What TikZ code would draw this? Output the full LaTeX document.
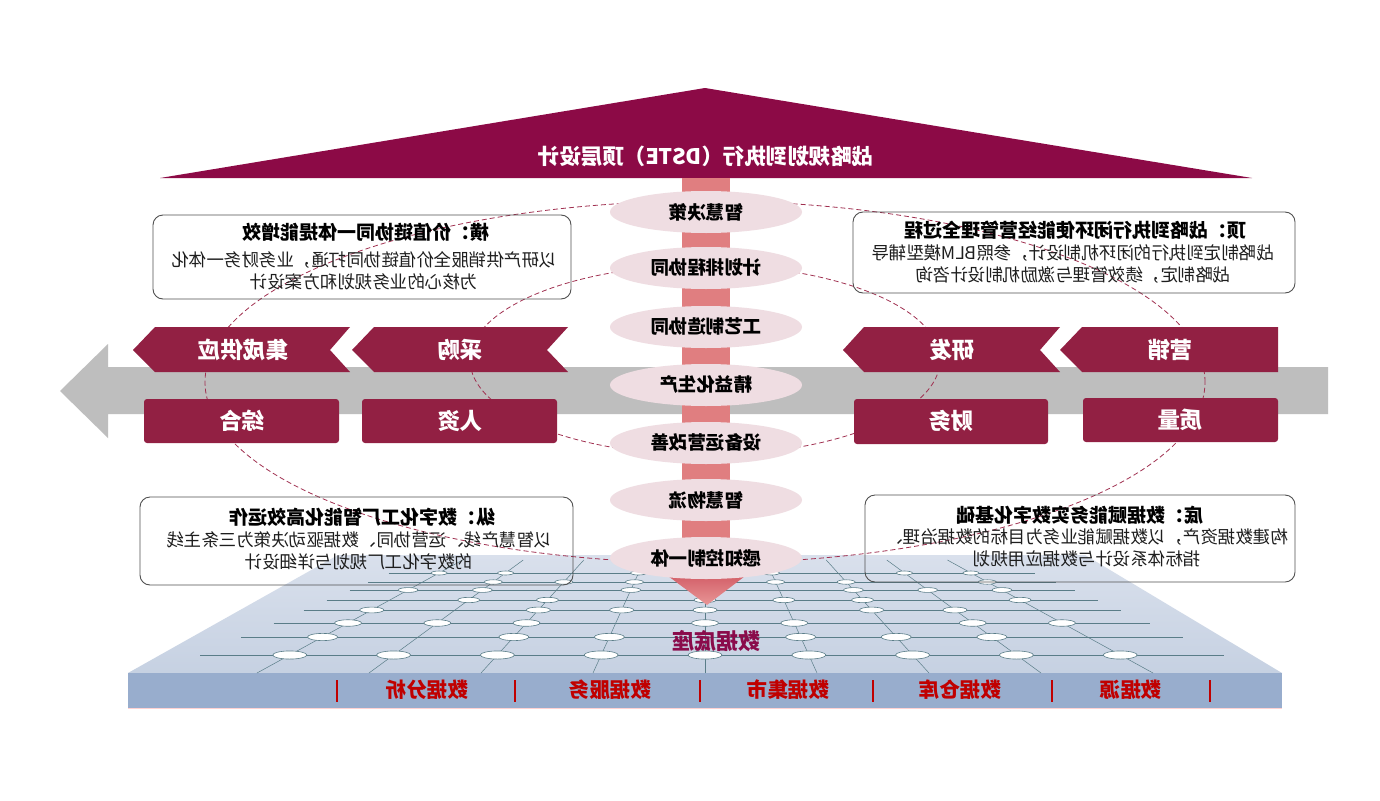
\documentclass[tikz,border=0pt]{standalone}
\usepackage{fontspec}
\setmainfont{Noto Sans CJK SC}
\usetikzlibrary{shapes.geometric}
\definecolor{roofc}{HTML}{8C0A46}
\definecolor{chevc}{HTML}{922043}
\definecolor{barc}{HTML}{E07E80}
\definecolor{ellc}{HTML}{EFDDE2}
\definecolor{arrc}{HTML}{BEBEBE}
\definecolor{platc}{HTML}{C6D1E2}
\definecolor{platt}{HTML}{D9E0EC}
\definecolor{frontc}{HTML}{98ADCD}
\definecolor{gridc}{HTML}{5A7D88}
\definecolor{dashc}{HTML}{A03050}
\definecolor{labred}{HTML}{C00000}
\definecolor{basec}{HTML}{8A0B4B}
\definecolor{boxc}{HTML}{505050}
\definecolor{bodyc}{HTML}{1E1E1E}
\begin{document}
\begin{tikzpicture}[x=1pt,y=-1pt,
  mir/.style={xscale=-1,inner sep=0pt},
  chevtext/.style={mir,text=white,font=\bfseries\fontsize{22.5}{24}\selectfont},
  pill/.style={ellipse,fill=ellc,minimum width=192pt,minimum height=42pt,inner sep=0pt,xscale=-1,font=\bfseries\fontsize{18.5}{20}\selectfont},
  boxtitle/.style={mir,text=black,font=\bfseries\fontsize{19}{22}\selectfont},
  boxbody/.style={mir,align=center,text=bodyc,font=\fontsize{17.5}{22}\selectfont},
  infobox/.style={draw=boxc,line width=0.9pt,rounded corners=10pt},
  dashring/.style={draw=dashc,dash pattern=on 5pt off 3pt,line width=0.8pt},
  baselab/.style={mir,text=labred,font=\bfseries\fontsize{20.5}{22}\selectfont},
  sepline/.style={draw=labred,line width=1.6pt},
  gridline/.style={draw=gridc,line width=0.6pt},
  gridnode/.style={draw=gridc,fill=white,line width=0.6pt}
]
\useasboundingbox (0,0) rectangle (1380,800);
\fill[white] (0,0) rectangle (1380,800);

% ---------- platform ----------
\shade[top color=platt,bottom color=platc] (338,555) -- (1085,555) -- (1282,673) -- (128,673) -- cycle;
\fill[frontc] (128,673) rectangle (1282,708);
\draw[draw=pink!70!white,line width=0.8pt] (128,708) -- (1282,708);
\begin{scope}
  \clip (338,555) -- (1085,555) -- (1282,673) -- (128,673) -- cycle;
  \foreach \yy in {573,582,590,600,610,623,637,655}{
    \pgfmathsetmacro\xl{200+(655-\yy)*2.3}
    \pgfmathsetmacro\xr{1224-(655-\yy)*2.3}
    \draw[gridline] (\xl,\yy) -- (\xr,\yy);
  }
  \foreach \j in {0,...,8}{
    \pgfmathsetmacro\xb{257+112*\j}
    \pgfmathsetmacro\xt{\xb+(705-\xb)*0.459}
    \draw[gridline,line width=0.5pt] (\xb,673) -- (\xt,560);
  }
  \foreach \j in {0,...,8}{
    \foreach \yy [count=\r] in {573,582,590,600,610,623,637,655}{
      \pgfmathtruncatemacro\m{mod(\j*5+\r*3,7)}
      \ifnum\m<5 \def\show{1}\else\def\show{0}\fi
      \ifnum\r=8 \def\show{1}\fi
      \ifnum\show=1
        \pgfmathsetmacro\fr{(673-\yy)/246}
        \pgfmathsetmacro\xe{257+112*\j+(448-112*\j)*\fr}
        \pgfmathsetmacro\ew{8+(\yy-573)*0.11}
        \pgfmathsetmacro\eh{2+(\yy-573)*0.025}
        \draw[gridnode] (\xe,\yy) ellipse [x radius=\ew pt, y radius=\eh pt];
      \fi
    }
  }
\end{scope}

% ---------- gray arrow ----------
\fill[arrc] (108,367) -- (1328,367) -- (1328,414) -- (108,414) -- (108,438) -- (60,391) -- (108,344) -- cycle;

% ---------- roof ----------
\fill[roofc] (705,88) -- (1252,178) -- (160,178) -- cycle;
\node[chevtext,font=\bfseries\fontsize{21.5}{24}\selectfont] (title) at (706,156) {战略规划到执行（DSTE）顶层设计};

% ---------- central bar ----------
\fill[barc] (682,178) rectangle (730,572);
\shade[top color={rgb,255:red,207;green,85;blue,96},bottom color={rgb,255:red,232;green,150;blue,150}] (660,570) -- (753,570) -- (707,605) -- cycle;

% ---------- dashed rings ----------
\draw[dashring] (705,382) ellipse [x radius=500pt, y radius=181pt];
\draw[dashring] (705,360) ellipse [x radius=235pt, y radius=95pt];

% ---------- chevrons ----------
\fill[chevc] (133,350) -- (155,327) -- (350,327) -- (330,350) -- (350,372) -- (155,372) -- cycle;
\fill[chevc] (352,350) -- (374,327) -- (568,327) -- (547,350) -- (568,372) -- (374,372) -- cycle;
\fill[chevc] (843,350) -- (864,327) -- (1060,327) -- (1040,350) -- (1060,372) -- (864,372) -- cycle;
\fill[chevc] (1060,350) -- (1082,327) -- (1278,327) -- (1278,372) -- (1082,372) -- cycle;
\node[chevtext] (jc) at (243,350) {集成供应};
\node[chevtext] (cg) at (460,350) {采购};
\node[chevtext] (yf) at (952,350) {研发};
\node[chevtext] (yx) at (1170,350) {营销};
\fill[chevc,rounded corners=3pt] (144,399) rectangle (339,443);
\fill[chevc,rounded corners=3pt] (362,399) rectangle (557,443);
\fill[chevc,rounded corners=3pt] (854,399) rectangle (1048,444);
\fill[chevc,rounded corners=3pt] (1083,398) rectangle (1278,442);
\node[chevtext] (zh) at (242,421) {综合};
\node[chevtext] (rz) at (460,421) {人资};
\node[chevtext] (cw) at (951,421) {财务};
\node[chevtext] (zl) at (1180,420) {质量};

% ---------- pills ----------
\node[pill] (p1) at (706,212) {智慧决策};
\node[pill] (p2) at (706,268) {计划排程协同};
\node[pill] (p3) at (706,327) {工艺制造协同};
\node[pill] (p4) at (706,385) {精益化生产};
\node[pill] (p5) at (706,443) {设备运营改善};
\node[pill] (p6) at (706,500) {智慧物流};
\node[pill] (p7) at (706,558) {感知控制一体};

% ---------- info boxes ----------
\draw[infobox] (153,215) rectangle (571,299);
\node[boxtitle] (tlt) at (366,232) {横：价值链协同一体提能增效};
\node[boxbody] (tlb) at (364,271) {以研产供销服全价值链协同打通，业务财务一体化\\为核心的业务规划和方案设计};

\draw[infobox] (853,212) rectangle (1295,293);
\node[boxtitle] (trt) at (1075,230) {顶：战略到执行闭环使能经营管理全过程};
\node[boxbody] (trb) at (1073,264) {战略制定到执行的闭环机制设计，参照BLM模型辅导\\战略制定，绩效管理与激励机制设计咨询};

\draw[infobox] (140,497) rectangle (573,585);
\node[boxtitle] (blt) at (362,517) {纵：数字化工厂智能化高效运作};
\node[boxbody] (blb) at (359,551) {以智慧产线、运营协同、数据驱动决策为三条主线\\的数字化工厂规划与详细设计};

\draw[infobox] (865,495) rectangle (1295,582);
\node[boxtitle] (brt) at (1080,515) {底：数据赋能务实数字化基础};
\node[boxbody] (brb) at (1087,548) {构建数据资产，以数据赋能业务为目标的数据治理、\\指标体系设计与数据应用规划};

% ---------- base labels ----------
\node[mir,text=basec,font=\bfseries\fontsize{22}{24}\selectfont] (base) at (716,641) {数据底座};
\node[baselab] (l1) at (427,690) {数据分析};
\node[baselab] (l2) at (610,690) {数据服务};
\node[baselab] (l3) at (788,690) {数据集市};
\node[baselab] (l4) at (960,690) {数据仓库};
\node[baselab] (l5) at (1131,690) {数据源};
\foreach \sx in {337,515,700,873,1052,1210}{
  \draw[sepline] (\sx,680) -- (\sx,702);
}
\end{tikzpicture}
\end{document}
